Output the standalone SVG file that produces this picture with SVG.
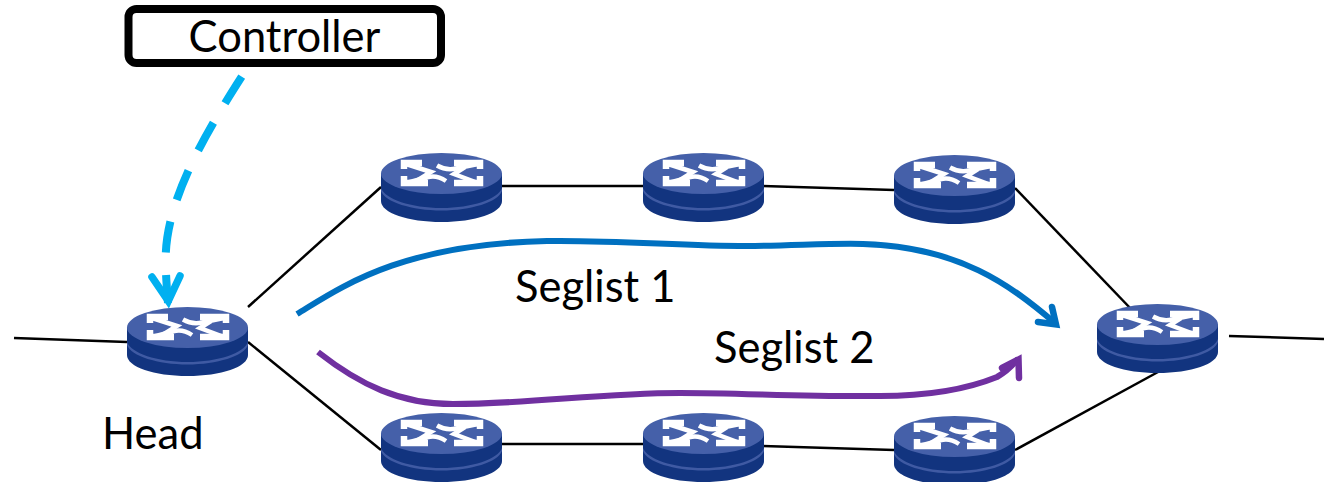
<svg xmlns="http://www.w3.org/2000/svg" width="1324" height="482" viewBox="0 0 1324 482">
<style>
.t{font-family:"Lato","Open Sans","Liberation Sans",sans-serif;font-size:43.500px;fill:#000}
.l{stroke:#000;stroke-width:2.500;fill:none}
.a{fill:none;stroke-width:6}
.h{fill:none;stroke-width:6.500;stroke-linecap:round;stroke-linejoin:miter;stroke-miterlimit:10}
.i{fill:none;stroke:#fff;stroke-linejoin:miter}
</style>
<defs>
<g id="router">
<path d="M0 20.500V48C0 60 27 69 60.500 69S121 60 121 48V20.500Z" fill="#12347f"/>
<path d="M0 35C4 46 30 55 60.500 55S117 46 121 35V38C117 49 90 57.500 60.500 57.500S4 49 0 38Z" fill="#3f5aa3"/>
<ellipse cx="60.500" cy="20.500" rx="60.500" ry="20.500" fill="#4560a9"/>
<g class="i" stroke-width="6.500">
<path d="M23 16V10H41M23 23V30H47M99 16V10H73M99 23V30H73"/>
</g>
<g class="i" stroke-width="4.500">
<path d="M25 11L50 19L37 27"/>
<path d="M97 11L75 15.500C68 17 62 16 56 12.500"/>
<path d="M25 30L46 24.500C53 22 59 24 65 28"/>
<path d="M97 30L73 21L84 14"/>
</g>
</g>
</defs>
<g id="connectors">
<path class="l" d="M14 338L127 342"/>
<path class="l" d="M248 307L381 187"/>
<path class="l" d="M248 342L381 450"/>
<path class="l" d="M501 186H643"/>
<path class="l" d="M763 186L894 190"/>
<path class="l" d="M1015 188L1132 310"/>
<path class="l" d="M501 444H643"/>
<path class="l" d="M763 446L894 450"/>
<path class="l" d="M1015 450L1158 372"/>
<path class="l" d="M1229 336L1324 339"/>
<path d="M241.700 76.700C205 134 166 200 165.700 258C165.500 272 167 290 168 303" fill="none" stroke="#00b0f0" stroke-width="8" stroke-dasharray="31.500 22.500"/>
<path d="M180 276L168.300 301L152 277" fill="none" stroke="#00b0f0" stroke-width="7.500" stroke-linecap="round" stroke-linejoin="miter" stroke-miterlimit="10"/>
<path class="a" stroke="#0070c0" d="M297 314C340 288 400 244 547 241C620 240 680 246 747 246C790 246 830 243 863 244C960 247 1010 285 1055 323"/>
<path class="h" stroke="#0070c0" d="M1038 322L1056 324.500L1052 307"/>
<path class="a" stroke="#7030a0" d="M318 352C360 385 400 404 453 404C530 404 600 393 680 393C740 393 810 397 880 396C925 396 965 390 997 377Q1008 371 1018 359"/>
<path class="h" stroke="#7030a0" d="M1002 368L1018.500 359.500L1019 378"/>
</g>
<g id="controller">
<rect x="128.500" y="9" width="312.500" height="54" rx="8" fill="#fff" stroke="#000" stroke-width="8"/>
<text class="t" x="284.500" y="52" text-anchor="middle">Controller</text>
</g>
<g id="head"><use href="#router" x="127" y="307"/></g>
<g id="r1"><use href="#router" x="381" y="153"/></g>
<g id="r2"><use href="#router" x="643" y="153"/></g>
<g id="r3"><use href="#router" x="894" y="155"/></g>
<g id="tail"><use href="#router" x="1097" y="304"/></g>
<g id="r4"><use href="#router" x="381" y="413"/></g>
<g id="r5"><use href="#router" x="643" y="413"/></g>
<g id="r6"><use href="#router" x="894" y="416"/></g>
<g id="labels">
<text class="t" x="102" y="448.500">Head</text>
<text class="t" x="515" y="301.500">Seglist 1</text>
<text class="t" x="714" y="362.500">Seglist 2</text>
</g>
</svg>
